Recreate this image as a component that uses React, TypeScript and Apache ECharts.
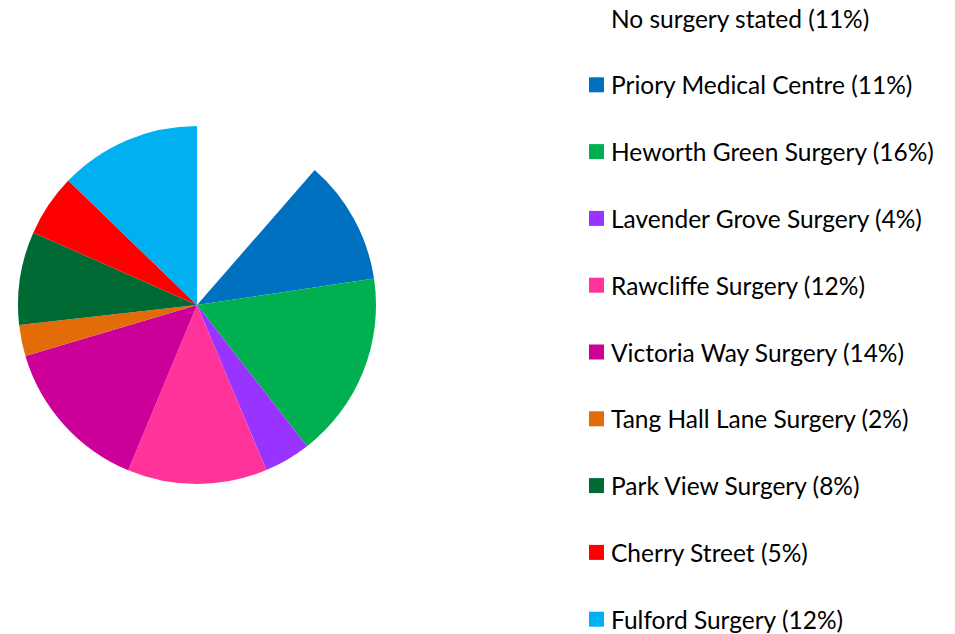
import React, { useEffect, useRef } from "react";
import * as echarts from "echarts";

const categories = [
  "No surgery stated",
  "Priory Medical Centre",
  "Heworth Green Surgery",
  "Lavender Grove Surgery",
  "Rawcliffe Surgery",
  "Victoria Way Surgery",
  "Tang Hall Lane Surgery",
  "Park View Surgery",
  "Cherry Street",
  "Fulford Surgery",
];

const values = [11.4, 11.2, 16.8, 4.2, 12.6, 14.1, 2.8, 8.4, 5.6, 12.75];

const pctLabels = [11, 11, 16, 4, 12, 14, 2, 8, 5, 12];

const colors = [
  "#FFFFFF",
  "#0070C0",
  "#00B050",
  "#9933FF",
  "#FF3399",
  "#CC0099",
  "#E36C09",
  "#006A35",
  "#FF0000",
  "#00B0F0",
];

export default function App() {
  const ref = useRef<HTMLDivElement>(null);
  useEffect(() => {
    document.body.style.margin = "0";
    if (!ref.current) return;
    const chart = echarts.init(ref.current, undefined, { renderer: "svg" });
    const names = categories.map((c, i) => `${c} (${pctLabels[i]}%)`);
    chart.setOption({
      animation: false,
      backgroundColor: "#FFFFFF",
      legend: {
        orient: "vertical",
        left: 589,
        top: 5,
        padding: 0,
        itemWidth: 15,
        itemHeight: 15,
        itemGap: 40.8,
        icon: "rect",
        data: names,
        textStyle: {
          fontFamily: "Lato",
          fontSize: 24.5,
          lineHeight: 26,
          color: "#000000",
          padding: [0, 0, 0, 2],
        },
        selectedMode: false,
      },
      series: [
        {
          type: "pie",
          center: [197, 305],
          radius: 179,
          startAngle: 90,
          clockwise: true,
          label: { show: false },
          labelLine: { show: false },
          emphasis: { disabled: true },
          itemStyle: { borderWidth: 0 },
          data: values.map((v, i) => ({
            name: names[i],
            value: v,
            itemStyle: { color: colors[i] },
          })),
        },
      ],
    });
    return () => chart.dispose();
  }, []);
  return <div ref={ref} style={{ width: 955, height: 634 }} />;
}
